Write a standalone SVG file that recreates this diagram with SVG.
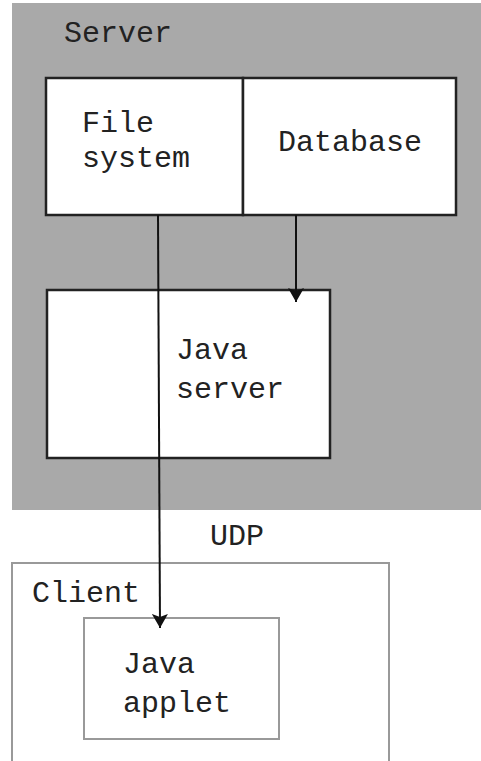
<svg xmlns="http://www.w3.org/2000/svg" width="481" height="761" viewBox="0 0 481 761">
<defs>
<marker id="arr" viewBox="0 0 14 16" refX="14" refY="8" markerWidth="14" markerHeight="16" markerUnits="userSpaceOnUse" orient="auto">
<path d="M0,0 L14,8 L0,16 L3,8 z" fill="#111"/>
</marker>
<style>
text{font-family:"Liberation Mono","Courier New",monospace;font-size:30px;fill:#222}
.box{fill:#fff;stroke:#222;stroke-width:2.5}
.lbox{fill:#fff;stroke:#999;stroke-width:2}
.conn{stroke:#111;stroke-width:2;fill:none}
</style>
</defs>
<rect x="0" y="0" width="481" height="761" fill="#fff"/>
<g id="server">
<rect x="12" y="3" width="469" height="507" fill="#a9a9a9"/>
<text x="64" y="42">Server</text>
</g>
<g id="filesystem">
<rect class="box" x="46" y="78" width="197" height="137"/>
<text x="82" y="132">File</text>
<text x="82" y="167">system</text>
</g>
<g id="database">
<rect class="box" x="243" y="78" width="213" height="137"/>
<text x="278" y="151">Database</text>
</g>
<g id="javaserver">
<rect class="box" x="47" y="290" width="283" height="168"/>
<text x="176" y="359">Java</text>
<text x="176" y="398">server</text>
</g>
<g id="client">
<rect class="lbox" x="12" y="563" width="377" height="210"/>
<text x="32" y="602">Client</text>
</g>
<g id="javaapplet">
<rect class="lbox" x="84" y="618" width="195" height="121"/>
<text x="123" y="673">Java</text>
<text x="123" y="712">applet</text>
</g>
<g id="connectors">
<path class="conn" d="M296,215 L296,302" marker-end="url(#arr)"/>
<path class="conn" d="M158,215 L160,628" marker-end="url(#arr)"/>
<text x="210" y="545">UDP</text>
</g>
</svg>
